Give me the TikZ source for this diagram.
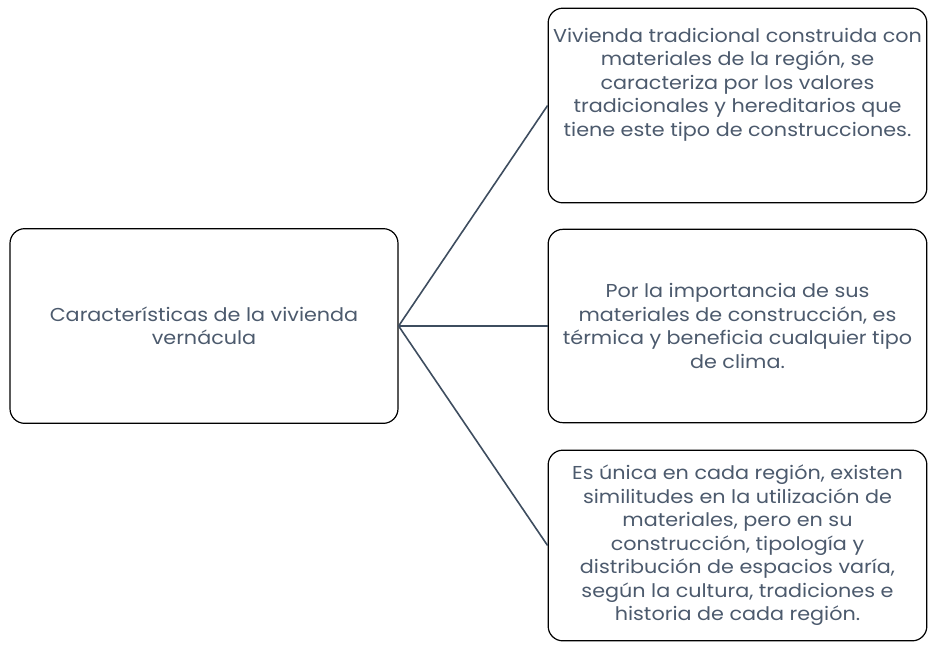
\documentclass[tikz,border=0pt]{standalone}
\usepackage{fontspec}
\setmainfont{Poppins}[FakeStretch=1.11]
\usepackage{xcolor}
\definecolor{textogris}{HTML}{4C5A6D}
\definecolor{lineagris}{HTML}{3E4D5F}

\begin{document}
\begin{tikzpicture}[x=0.75pt,y=-0.75pt,
  caja/.style={draw=black,line width=0.9pt,rounded corners=11pt,fill=white,
    align=center,text=textogris,inner sep=1pt,
    font=\fontsize{14}{17.6}\selectfont},
  conector/.style={draw=lineagris,line width=1.2pt}]
  \useasboundingbox (0,0) rectangle (928,644);

  \node[caja,minimum width=291pt,minimum height=146pt] (raiz) at (204,326)
    {Características de la vivienda\\vernácula};

  % texto arriba: dos renglones vacios para subirlo
  \node[caja,minimum width=284pt,minimum height=146pt] (arriba) at (737.5,105.5)
    {Vivienda tradicional construida con\\materiales de la región, se\\caracteriza por los valores\\tradicionales y hereditarios que\\tiene este tipo de construcciones.\\ ~ \\ ~};
  \node[caja,minimum width=284pt,minimum height=145pt] (medio) at (737.5,326)
    {Por la importancia de sus\\materiales de construcción, es\\térmica y beneficia cualquier tipo\\de clima.};
  \node[caja,minimum width=284pt,minimum height=143pt] (abajo) at (737.5,545.5)
    {Es única en cada región, existen\\similitudes en la utilización de\\materiales, pero en su\\construcción, tipología y\\distribución de espacios varía,\\según la cultura, tradiciones e\\historia de cada región.};

  \path[conector] (raiz.east) -- (arriba.west);
  \path[conector] (raiz.east) -- (medio.west);
  \path[conector] (raiz.east) -- (abajo.west);
\end{tikzpicture}
\end{document}
